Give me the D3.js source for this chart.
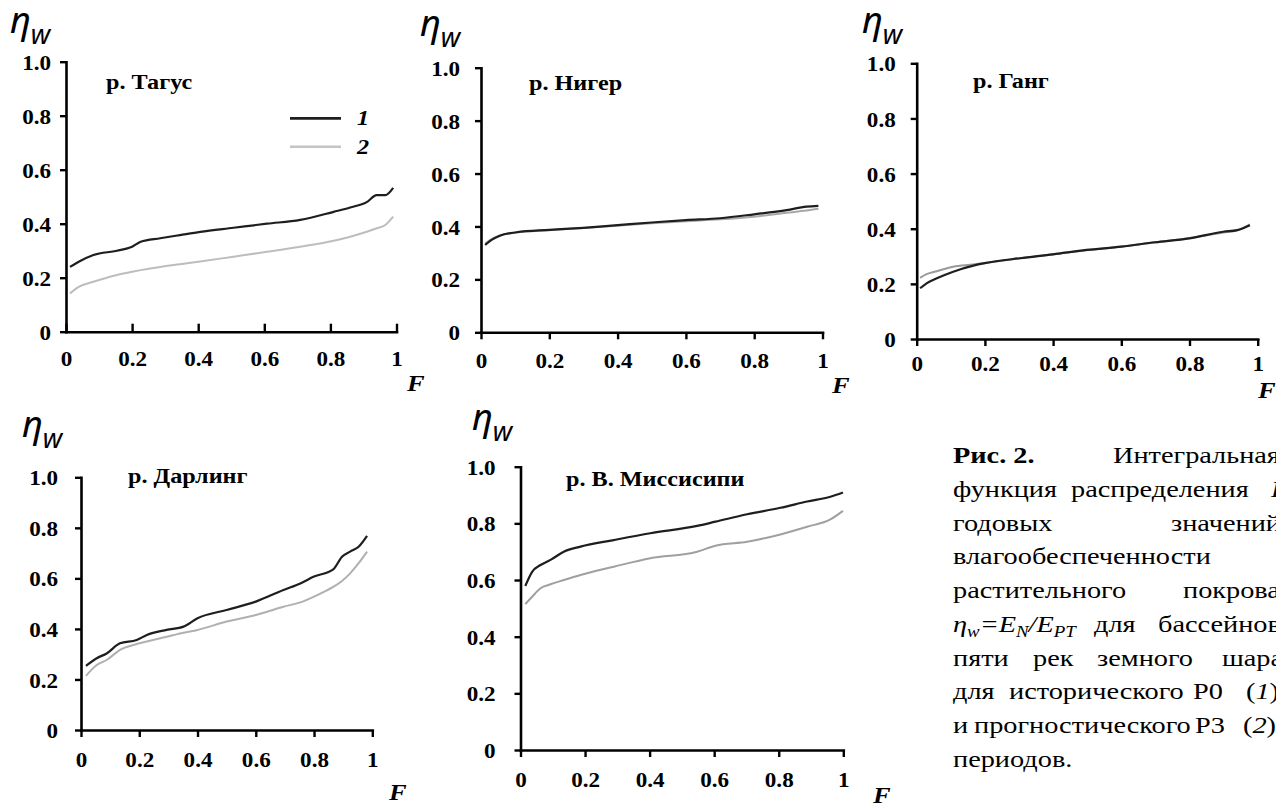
<!DOCTYPE html>
<html><head><meta charset="utf-8">
<script src="https://cdn.jsdelivr.net/npm/d3@7"></script>
<style>html,body{margin:0;padding:0;background:#fff;}svg{display:block;}
text{font-family:"Liberation Serif","Tinos","Times New Roman","DejaVu Serif",serif;}
</style>
</head><body>
<script>
// ---------- data ----------
const yTickValues = [0, 0.2, 0.4, 0.6, 0.8, 1.0];
const yTickLabels = ["0", "0.2", "0.4", "0.6", "0.8", "1.0"];
const xTickValues = [0, 0.2, 0.4, 0.6, 0.8, 1];
const xTickLabels = ["0", "0.2", "0.4", "0.6", "0.8", "1"];
const riverNames = ["р. Тагус", "р. Нигер", "р. Ганг", "р. Дарлинг", "р. В. Миссисипи"];
const legendLabels = ["1", "2"];

const tagusF  = [0.012,0.04,0.083,0.154,0.2,0.226,0.285,0.345,0.406,0.507,0.608,0.709,0.81,0.86,0.91,0.94,0.966,0.99];
const tagusP0 = [0.24,0.26,0.284,0.30,0.315,0.333,0.346,0.358,0.37,0.385,0.40,0.414,0.444,0.46,0.48,0.506,0.506,0.533];
const tagusP3 = [0.142,0.167,0.185,0.21,0.222,0.228,0.24,0.25,0.26,0.278,0.296,0.315,0.337,0.352,0.37,0.383,0.395,0.426];

const nigerF  = [0.012,0.031,0.055,0.104,0.2,0.3,0.4,0.5,0.6,0.7,0.8,0.895,0.953,0.988];
const nigerP0 = [0.33,0.349,0.365,0.378,0.387,0.395,0.405,0.415,0.424,0.431,0.446,0.462,0.475,0.478];
const nigerP3 = [0.335,0.352,0.366,0.377,0.386,0.394,0.403,0.412,0.42,0.427,0.437,0.452,0.46,0.467];

const gangesF  = [0.01,0.029,0.059,0.107,0.166,0.2,0.303,0.4,0.498,0.6,0.699,0.8,0.899,0.94,0.977];
const gangesP0 = [0.184,0.202,0.22,0.244,0.266,0.275,0.293,0.307,0.323,0.335,0.351,0.365,0.389,0.395,0.413];
const gangesP3 = [0.222,0.235,0.246,0.262,0.27,0.276,0.293,0.307,0.322,0.335,0.35,0.366,0.386,0.394,0.416];

const darlingF  = [0.017,0.054,0.088,0.134,0.191,0.226,0.294,0.352,0.4,0.5,0.6,0.695,0.753,0.8,0.867,0.896,0.924,0.953,0.982];
const darlingP0 = [0.254,0.284,0.303,0.343,0.356,0.376,0.396,0.409,0.442,0.475,0.508,0.554,0.58,0.607,0.637,0.686,0.706,0.725,0.768];
const darlingP3 = [0.214,0.257,0.277,0.317,0.34,0.35,0.369,0.385,0.396,0.429,0.455,0.488,0.505,0.528,0.567,0.59,0.62,0.66,0.706];

const mississippiF  = [0.015,0.036,0.062,0.093,0.134,0.186,0.289,0.402,0.547,0.604,0.702,0.805,0.888,0.96,0.999];
const mississippiP0 = [0.579,0.629,0.653,0.671,0.7,0.718,0.741,0.765,0.791,0.806,0.832,0.855,0.877,0.894,0.909];
const mississippiP3 = [0.515,0.541,0.571,0.585,0.6,0.618,0.647,0.677,0.7,0.721,0.735,0.761,0.788,0.814,0.844];

// ---------- layout ----------
const SX = 1.1;
const serif = '"Liberation Serif","Tinos","Times New Roman","DejaVu Serif",serif';
const panels = [
  {name: riverNames[0], F: tagusF, s1: tagusP0, s2: tagusP3, x0: 66, x1: 396.5, yTop: 61.7, yBot: 331.7,
   xTick: -8, yLabGap: 15, xLabBase: 34, title: [106, 89], eta: [10, 33], fl: [407, 391], gray: "#bdbdbd", legend: true},
  {name: riverNames[1], F: nigerF, s1: nigerP0, s2: nigerP3, x0: 481, x1: 822.5, yTop: 67.7, yBot: 332.3,
   xTick: 7, yLabGap: 21, xLabBase: 36, title: [529, 90], eta: [420, 36], fl: [832, 393], gray: "#a8a8a8"},
  {name: riverNames[2], F: gangesF, s1: gangesP0, s2: gangesP3, x0: 916.7, x1: 1257.7, yTop: 63.3, yBot: 339,
   xTick: 7, yLabGap: 21, xLabBase: 32, title: [973, 88], eta: [862, 33], fl: [1258, 398], gray: "#9a9a9a"},
  {name: riverNames[3], F: darlingF, s1: darlingP0, s2: darlingP3, x0: 81, x1: 372.3, yTop: 477.3, yBot: 730,
   xTick: 7, yLabGap: 23, xLabBase: 37, title: [128, 483], eta: [22, 437], fl: [389, 800], gray: "#b0b0b0"},
  {name: riverNames[4], F: mississippiF, s1: mississippiP0, s2: mississippiP3, x0: 520.5, x1: 843.3, yTop: 466.7, yBot: 750,
   xTick: 7, yLabGap: 25, xLabBase: 37, title: [566, 486], eta: [472, 430], fl: [873, 803], gray: "#a0a0a0"}
];

const svg = d3.select("body").append("svg").attr("width", 1276).attr("height", 805);
svg.append("rect").attr("width", 1276).attr("height", 805).attr("fill", "#fff");

function txt(parent, x, y, s, o = {}) {
  const t = parent.append("text")
    .attr("transform", `translate(${x},${y}) scale(${o.sx || SX},1)`)
    .attr("text-anchor", o.anchor || "start")
    .attr("font-family", o.family || serif)
    .style("font-family", o.family || serif)
    .style("font-size", (o.size || 21) + "px")
    .style("font-weight", o.weight || "normal")
    .style("font-style", o.style || "normal")
    .attr("fill", o.fill || "#000");
  if (s !== null) t.text(s);
  return t;
}

panels.forEach(p => {
  const x = d3.scaleLinear().domain([0, 1]).range([p.x0, p.x1]);
  const y = d3.scaleLinear().domain([0, 1]).range([p.yBot, p.yTop]);
  const g = svg.append("g");

  const ya = g.append("g").attr("transform", `translate(${p.x0},0)`)
    .call(d3.axisLeft(y).tickValues(yTickValues).tickFormat((d, i) => yTickLabels[i]).tickSize(6).tickSizeOuter(0));
  const xa = g.append("g").attr("transform", `translate(0,${p.yBot})`)
    .call(d3.axisBottom(x).tickValues(xTickValues).tickFormat((d, i) => xTickLabels[i]).tickSize(p.xTick).tickSizeOuter(0));

  [ya, xa].forEach(a => {
    a.attr("font-family", serif);
    a.select(".domain").attr("stroke", "#000").attr("stroke-width", 2.6).attr("stroke-linecap", "square");
    a.selectAll(".tick line").attr("stroke", "#000").attr("stroke-width", 2.4);
    a.selectAll(".tick text")
      .style("font-family", serif).style("font-size", "21px").style("font-weight", "bold").attr("fill", "#000");
  });
  ya.selectAll(".tick text").attr("x", 0).attr("dy", "0.36em")
    .attr("transform", `translate(${-p.yLabGap},0) scale(${SX},1)`);
  xa.selectAll(".tick text").attr("y", 0).attr("dy", 0)
    .attr("transform", `translate(0,${p.xLabBase}) scale(${SX},1)`);

  const line = d3.line().curve(d3.curveMonotoneX).x(d => x(d[0])).y(d => y(d[1]));
  g.append("path").datum(p.F.map((f, i) => [f, p.s2[i]])).attr("d", line)
    .attr("fill", "none").attr("stroke", p.gray).attr("stroke-width", 2).attr("stroke-linejoin", "round");
  g.append("path").datum(p.F.map((f, i) => [f, p.s1[i]])).attr("d", line)
    .attr("fill", "none").attr("stroke", "#1e1e1e").attr("stroke-width", 2.2).attr("stroke-linejoin", "round");

  txt(g, p.title[0], p.title[1], p.name, {size: 22, weight: "bold"});

  const e = txt(g, p.eta[0], p.eta[1], null, {family: "'Noto Sans','DejaVu Sans',sans-serif", size: 36, style: "italic", sx: 1});
  e.append("tspan").text("η");
  e.append("tspan").attr("dy", 11).style("font-size", "27px").text("w");

  txt(g, p.fl[0], p.fl[1], "F", {size: 24, weight: "bold", style: "italic"});

  if (p.legend) {
    const lg = g.append("g");
    [[118.3, "#1e1e1e", 2.8], [146.7, "#c4c4c4", 2.6]].forEach((L, i) => {
      lg.append("line").attr("x1", 290).attr("x2", 341).attr("y1", L[0]).attr("y2", L[0])
        .attr("stroke", L[1]).attr("stroke-width", L[2]);
      txt(lg, 357, L[0] + 7, legendLabels[i], {size: 22, weight: "bold", style: "italic"});
    });
  }
});

// ---------- caption ----------
const cap = svg.append("g");
const capSize = 24, capSX = 1.18, lh = 33.7, base0 = 463.3;
function w(line, x, s, o = {}) {
  return txt(cap, x, base0 + line * lh, s, Object.assign({size: capSize, sx: capSX}, o));
}
w(0, 953, "Рис. 2.", {weight: "bold"});
w(0, 1113, "Интегральная");
w(1, 953, "функция");
w(1, 1071, "распределения");
w(1, 1271, "F", {style: "italic"});
w(2, 953, "годовых");
w(2, 1171, "значений");
w(3, 953, "влагообеспеченности");
w(4, 953, "растительного");
w(4, 1183, "покрова");
const eq = w(5, 953, null, {style: "italic"});
eq.append("tspan").text("η");
eq.append("tspan").attr("dy", 5).style("font-size", "16px").text("w");
eq.append("tspan").attr("dy", -5).text("=E");
eq.append("tspan").attr("dy", 5).style("font-size", "16px").text("N");
eq.append("tspan").attr("dy", -5).text("/E");
eq.append("tspan").attr("dy", 5).style("font-size", "16px").text("PT");
w(5, 1094, "для");
w(5, 1158, "бассейнов");
w(6, 953, "пяти");
w(6, 1033, "рек");
w(6, 1097, "земного");
w(6, 1222, "шара");
w(7, 953, "для");
w(7, 1009, "исторического");
w(7, 1193, "Р0");
const p1 = w(7, 1246, null);
p1.append("tspan").text("(");
p1.append("tspan").style("font-style", "italic").text("1");
p1.append("tspan").text(")");
w(8, 953, "и");
w(8, 974, "прогностического");
w(8, 1195, "Р3");
const p2 = w(8, 1243, null);
p2.append("tspan").text("(");
p2.append("tspan").style("font-style", "italic").text("2");
p2.append("tspan").text(")");
w(9, 953, "периодов.");
</script>
</body></html>
